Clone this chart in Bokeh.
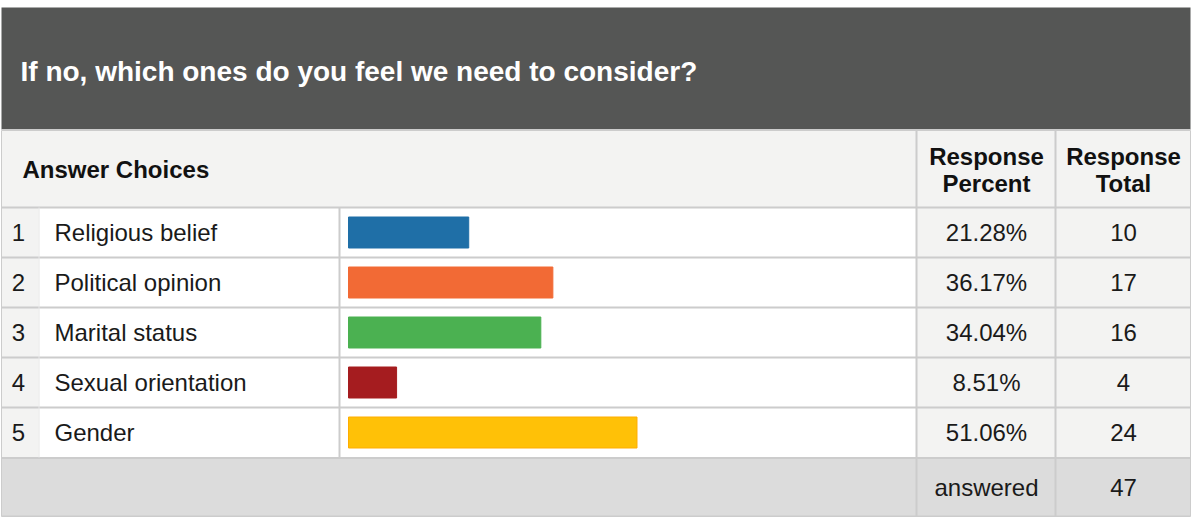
from bokeh.plotting import figure
from bokeh.models import Range1d
from bokeh.core.properties import value
from bokeh.embed import file_html
from bokeh.resources import INLINE

# ---- data ----
title = "If no, which ones do you feel we need to consider?"
row_numbers = ["1", "2", "3", "4", "5"]
choices = ["Religious belief", "Political opinion", "Marital status", "Sexual orientation", "Gender"]
percents = [21.28, 36.17, 34.04, 8.51, 51.06]
totals = [10, 17, 16, 4, 24]
answered = 47
bar_colors = ["#1f6fa7", "#f26a35", "#4bb151", "#a51c1f", "#ffc107"]
bar_lines = ["#1f6fa7", "#f26a35", "#4bb151", "#a51c1f", "#ffad00"]

# ---- layout frame (reference pixel frame) ----
W, H = 1192, 517
FONT = value("Liberation Sans")

p = figure(width=W, height=H, output_backend="svg", toolbar_location=None,
           x_range=Range1d(0, 1192), y_range=Range1d(517, 0), min_border=0,
           background_fill_color="white", border_fill_color="white")
p.axis.visible = False
p.grid.visible = False
p.outline_line_color = None

# percent scale for bars: 0% at x=348, 100% at x=913
x0, x100 = 348.0, 913.0
ppu = (x100 - x0) / 100.0
p.extra_x_ranges = {"pct": Range1d((0 - x0) / ppu, (1192 - x0) / ppu)}
# row scale: row i center at 182 + 50*i
p.extra_y_ranges = {"row": Range1d((517 - 182) / 50.0, (0 - 182) / 50.0)}

rows = list(range(1, len(choices) + 1))
ans_row = 6.1

# backgrounds
p.quad(left=[1], right=[1190], top=[7], bottom=[129], fill_color="#555655", line_color=None)
p.quad(left=[1], right=[1190], top=[130], bottom=[207], fill_color="#f3f3f2", line_color=None)
p.quad(left=[1], right=[38], top=[207], bottom=[457], fill_color="#f3f3f2", line_color=None)
p.quad(left=[916], right=[1190], top=[207], bottom=[457], fill_color="#f3f3f2", line_color=None)
p.quad(left=[1], right=[1190], top=[458], bottom=[516], fill_color="#dcdcdc", line_color=None)

# grid lines
hy = [129.5, 207, 257, 307, 357, 407, 457.5, 516]
p.segment(x0=[1] * len(hy), x1=[1190] * len(hy), y0=hy, y1=hy, line_color="#cccccc", line_width=2)
p.segment(x0=[916, 1055], x1=[916, 1055], y0=[130, 130], y1=[516, 516], line_color="#cccccc", line_width=2)
p.segment(x0=[339], x1=[339], y0=[207], y1=[457], line_color="#cccccc", line_width=2)
p.segment(x0=[38.5], x1=[38.5], y0=[207], y1=[457], line_color="#e6e6e6", line_width=1)
p.segment(x0=[1, 1190], x1=[1, 1190], y0=[130, 130], y1=[516, 516], line_color="#cccccc", line_width=1)

# title
p.text(x=[20], y=[71], text=[title], text_color="white", text_font=FONT, text_font_style="bold",
       text_font_size="28px", text_baseline="middle", text_align="left")
# header row
p.text(x=[22], y=[169], text=["Answer Choices"], text_color="#111111", text_font=FONT,
       text_font_style="bold", text_font_size="24px", text_baseline="middle")
p.text(x=[986, 986, 1123, 1123], y=[156, 183, 156, 183],
       text=["Response", "Percent", "Response", "Total"], text_color="#111111", text_font=FONT,
       text_font_style="bold", text_font_size="24px", text_baseline="middle", text_align="center")

# bars
p.hbar(y=rows, left=0, right=percents, height=0.62, fill_color=bar_colors, line_color=bar_lines,
       line_width=1, x_range_name="pct", y_range_name="row")

# row texts
p.text(x=[18] * 5, y=rows, text=row_numbers, y_range_name="row", text_font=FONT, text_font_size="24px",
       text_color="#1a1a1a", text_baseline="middle", text_align="center")
p.text(x=[54] * 5, y=rows, text=choices, y_range_name="row", text_font=FONT, text_font_size="24px",
       text_color="#1a1a1a", text_baseline="middle", text_align="left")
p.text(x=[986] * 5, y=rows, text=[f"{v:.2f}%" for v in percents], y_range_name="row", text_font=FONT,
       text_font_size="24px", text_color="#1a1a1a", text_baseline="middle", text_align="center")
p.text(x=[1123] * 5, y=rows, text=[str(t) for t in totals], y_range_name="row", text_font=FONT,
       text_font_size="24px", text_color="#1a1a1a", text_baseline="middle", text_align="center")

# answered row
p.text(x=[986, 1123], y=[ans_row, ans_row], text=["answered", str(answered)], y_range_name="row",
       text_font=FONT, text_font_size="24px", text_color="#1a1a1a", text_baseline="middle",
       text_align="center")

open("out.html", "w").write(file_html(p, INLINE))
